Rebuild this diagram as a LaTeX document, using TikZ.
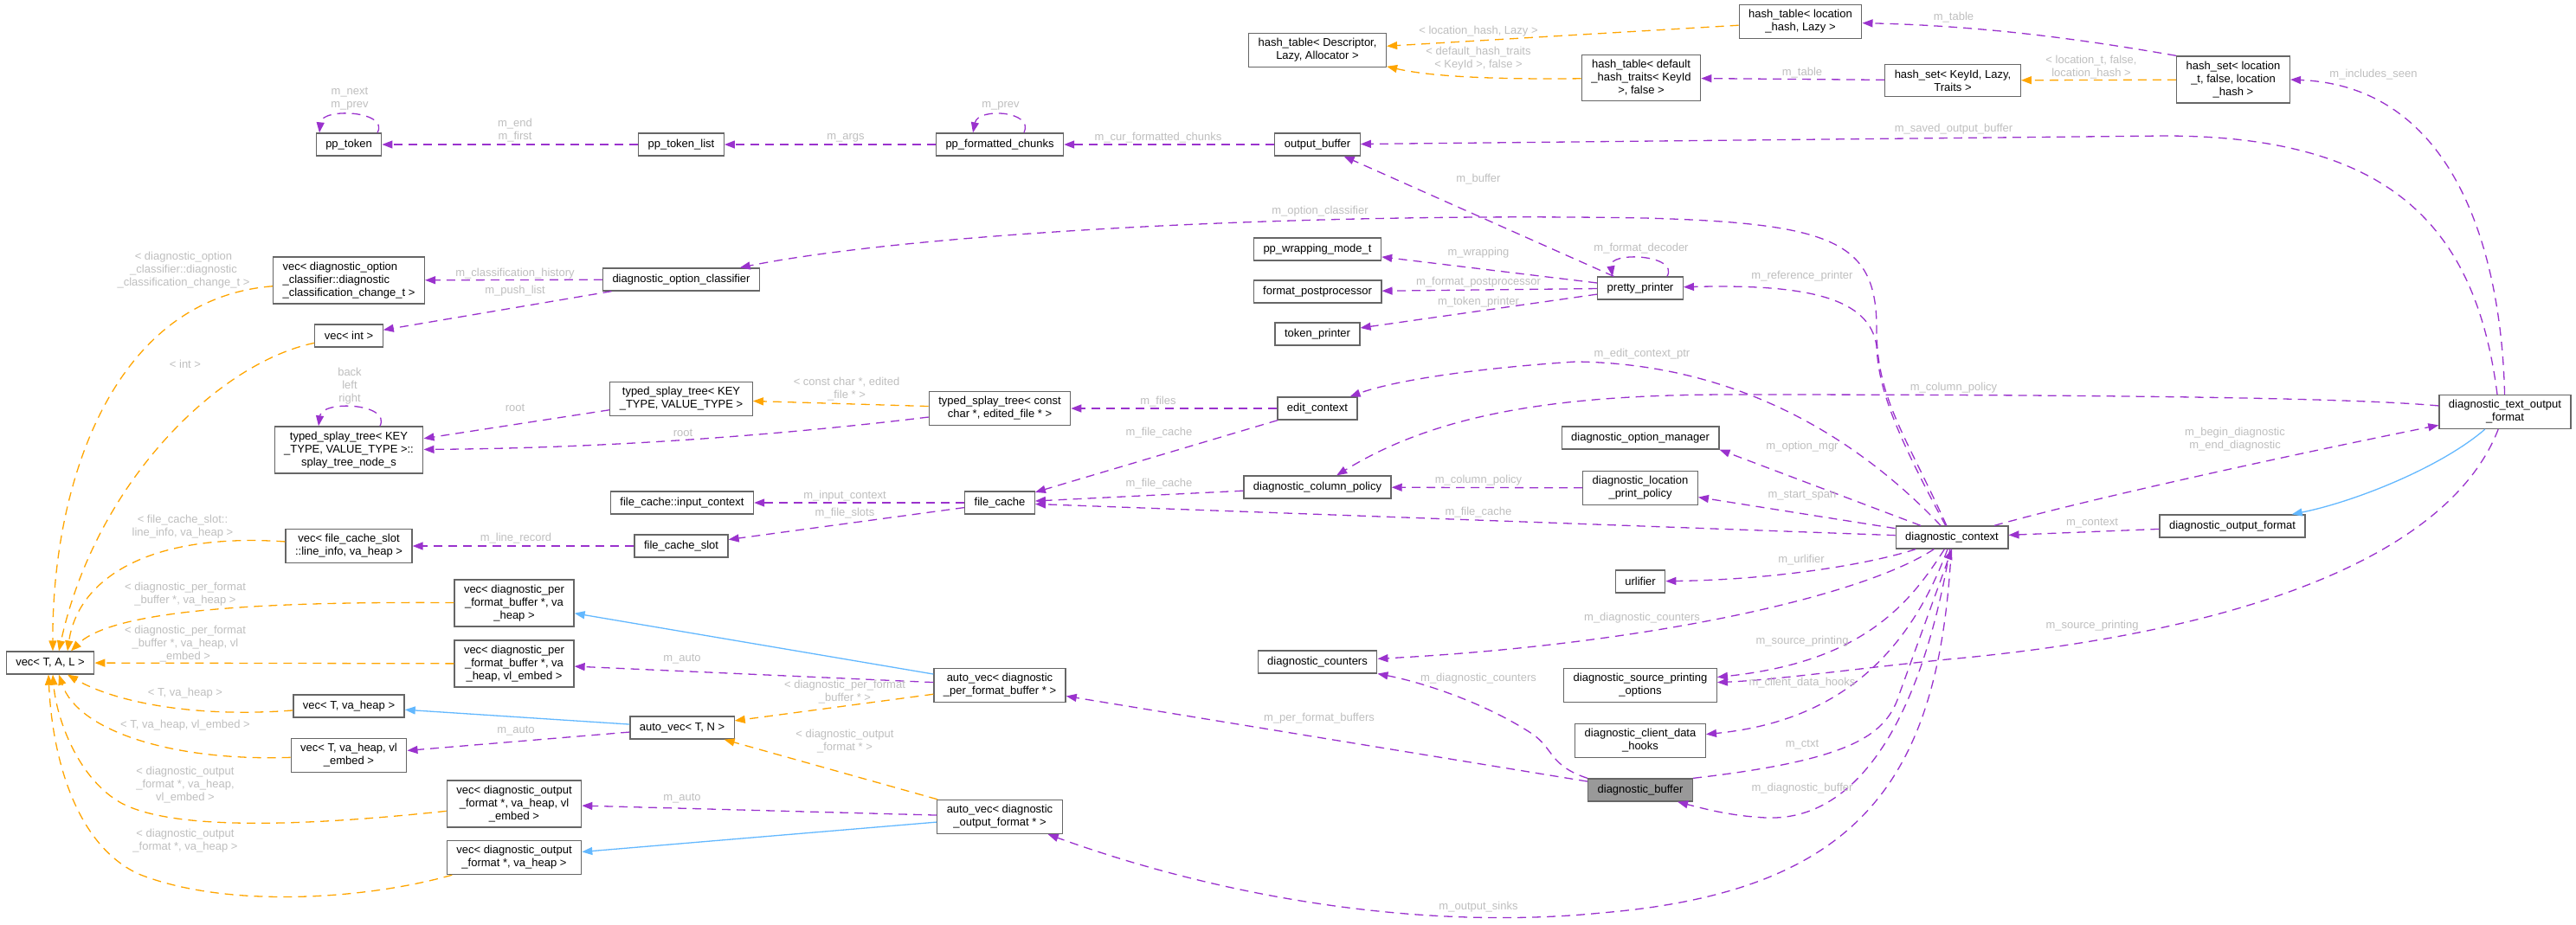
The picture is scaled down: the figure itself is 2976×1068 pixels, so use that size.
\documentclass[tikz,border=0pt]{standalone}
\usepackage{fontspec}
\setmainfont{Liberation Sans}
\usetikzlibrary{arrows.meta}
\definecolor{usecol}{HTML}{9A32CD}
\definecolor{tplcol}{HTML}{FFA500}
\definecolor{inhcol}{HTML}{63B8FF}
\definecolor{boxcol}{HTML}{666666}
\definecolor{lblcol}{HTML}{BEBEBE}
\definecolor{hlcol}{HTML}{999999}
\begin{document}
\begin{tikzpicture}[x=1pt, y=-1pt,
	cls/.style={draw=boxcol, line width=1.3pt, fill=white, align=center, inner xsep=11pt, inner ysep=6pt, minimum height=26pt, font=\fontsize{13}{15}\selectfont},
	lbl/.style={text=lblcol, align=center, inner sep=0pt, font=\fontsize{13}{15}\selectfont},
	use/.style={usecol, line width=1.3pt, dash pattern=on 10pt off 7pt, -{Triangle[length=12pt,width=9pt]}},
	tpl/.style={tplcol, line width=1.3pt, dash pattern=on 10pt off 7pt, -{Triangle[length=12pt,width=9pt]}},
	inh/.style={inhcol, line width=1.3pt, -{Triangle[length=12pt,width=9pt]}}]
	\useasboundingbox (0,0) rectangle (2976,1068);

	\node[cls] (pptok) at (403,167) {pp\_token};
	\node[cls] (pptoklist) at (787,167) {pp\_token\_list};
	\node[cls] (ppfc) at (1155,167) {pp\_formatted\_chunks};
	\node[cls] (outbuf) at (1522,167) {output\_buffer};
	\node[cls] (htdesc) at (1522,58) {hash\_table< Descriptor,\\Lazy, Allocator >};
	\node[cls] (htloc) at (2080,25) {hash\_table< location\\\_hash, Lazy >};
	\node[cls] (htdef) at (1896,90) {hash\_table< default\\\_hash\_traits< KeyId\\>, false >};
	\node[cls] (hskey) at (2256,93) {hash\_set< KeyId, Lazy,\\Traits >};
	\node[cls] (hsloc) at (2580,92) {hash\_set< location\\\_t, false, location\\\_hash >};

	\node[cls] (optcls) at (787,323) {diagnostic\_option\_classifier};
	\node[cls, align=left] (vecopt) at (403,324) {vec< diagnostic\_option\\\_classifier::diagnostic\\\_classification\_change\_t >};
	\node[cls] (vecint) at (403,388) {vec< int >};
	\node[cls] (tstkv) at (787,461) {typed\_splay\_tree< KEY\\\_TYPE, VALUE\_TYPE >};
	\node[cls] (tsnode) at (403,520) {typed\_splay\_tree< KEY\\\_TYPE, VALUE\_TYPE >::\\splay\_tree\_node\_s};
	\node[cls] (tscc) at (1155,472) {typed\_splay\_tree< const\\char *, edited\_file * >};
	\node[cls] (editctx) at (1522,472) {edit\_context};
	\node[cls] (ppwrap) at (1522,288) {pp\_wrapping\_mode\_t};
	\node[cls] (fmtpp) at (1522,337) {format\_postprocessor};
	\node[cls] (tokpr) at (1522,386) {token\_printer};
	\node[cls] (pretty) at (1895,333) {pretty\_printer};
	\node[cls] (optmgr) at (1895,506) {diagnostic\_option\_manager};
	\node[cls] (locpol) at (1895,564) {diagnostic\_location\\\_print\_policy};
	\node[cls] (colpol) at (1522,563) {diagnostic\_column\_policy};
	\node[cls] (fcic) at (788,581) {file\_cache::input\_context};
	\node[cls] (fcache) at (1155,581) {file\_cache};
	\node[cls] (fcslot) at (787,631) {file\_cache\_slot};
	\node[cls] (veclinfo) at (403,631) {vec< file\_cache\_slot\\::line\_info, va\_heap >};
	\node[cls] (urlif) at (1895,672) {urlifier};
	\node[cls] (dctx) at (2255,621) {diagnostic\_context};
	\node[cls] (dof) at (2579,608) {diagnostic\_output\_format};
	\node[cls] (dtof) at (2894,476) {diagnostic\_text\_output\\\_format};

	\node[cls] (vtal) at (58,766) {vec< T, A, L >};
	\node[cls] (vecpfb) at (594,697) {vec< diagnostic\_per\\\_format\_buffer *, va\\\_heap >};
	\node[cls] (vecpfbe) at (594,767) {vec< diagnostic\_per\\\_format\_buffer *, va\\\_heap, vl\_embed >};
	\node[cls] (vecth) at (403,816) {vec< T, va\_heap >};
	\node[cls] (vecthe) at (403,873) {vec< T, va\_heap, vl\\\_embed >};
	\node[cls] (autotn) at (788,841) {auto\_vec< T, N >};
	\node[cls] (autopfb) at (1155,792) {auto\_vec< diagnostic\\\_per\_format\_buffer * >};
	\node[cls] (autoof) at (1155,944) {auto\_vec< diagnostic\\\_output\_format * >};
	\node[cls] (vecofe) at (594,929) {vec< diagnostic\_output\\\_format *, va\_heap, vl\\\_embed >};
	\node[cls] (vecof) at (594,991) {vec< diagnostic\_output\\\_format *, va\_heap >};
	\node[cls] (counters) at (1522,765) {diagnostic\_counters};
	\node[cls] (srcopt) at (1895,792) {diagnostic\_source\_printing\\\_options};
	\node[cls] (hooks) at (1895,856) {diagnostic\_client\_data\\\_hooks};
	\node[cls, fill=hlcol] (dbuf) at (1895,913) {diagnostic\_buffer};

	\draw[use] ([xshift=33pt]pptok.north) .. controls (450,128) and (372,124) .. ([xshift=-34pt]pptok.north) node[lbl] at (404,114) {m\_next\\m\_prev};
	\draw[use] (pptoklist) -- (pptok) node[lbl] at (595,151) {m\_end\\m\_first};
	\draw[use] (ppfc) -- (pptoklist) node[lbl] at (977,159) {m\_args};
	\draw[use] ([xshift=28pt]ppfc.north) .. controls (1195,128) and (1130,124) .. ([xshift=-31pt]ppfc.north) node[lbl] at (1156,122) {m\_prev};
	\draw[use] (outbuf) -- (ppfc) node[lbl] at (1338,159) {m\_cur\_formatted\_chunks};
	\draw[use] (pretty) -- (outbuf) node[lbl] at (1708,207) {m\_buffer};
	\draw[use] ([xshift=-9pt]dtof.north) .. controls (2860,260) and (2760,157) .. (2500,157) -- (outbuf) node[lbl] at (2257,149) {m\_saved\_output\_buffer};

	\draw[use] (hsloc.north west) .. controls (2420,48) and (2300,30) .. (htloc) node[lbl] at (2257,20) {m\_table};
	\draw[use] (hskey) -- (htdef) node[lbl] at (2082,84) {m\_table};
	\draw[tpl] (htloc) -- (htdesc) node[lbl] at (1708,36) {< location\_hash, Lazy >};
	\draw[tpl] (htdef) .. controls (1720,92) and (1650,88) .. (htdesc) node[lbl] at (1708,68) {< default\_hash\_traits\\< KeyId >, false >};
	\draw[tpl] (hsloc) -- (hskey) node[lbl] at (2416,78) {< location\_t, false,\\location\_hash >};

	\draw[use] (dctx) .. controls (2200,500) and (2168,460) .. (2168,380) .. controls (2168,280) and (2120,258) .. (1900,252) .. controls (1500,245) and (1050,270) .. (optcls) node[lbl] at (1525,244) {m\_option\_classifier};
	\draw[use] (optcls) -- (vecopt) node[lbl] at (595,316) {m\_classification\_history};
	\draw[use] (optcls) -- (vecint) node[lbl] at (595,336) {m\_push\_list};
	\draw[use] (tstkv) -- (tsnode) node[lbl] at (595,471) {root};
	\draw[use] (tscc) .. controls (900,503) and (700,518) .. (tsnode) node[lbl] at (789,500) {root};
	\draw[use] ([xshift=36pt]tsnode.north) .. controls (452,466) and (372,462) .. ([xshift=-35pt]tsnode.north) node[lbl] at (404,446) {back\\left\\right};
	\draw[tpl] (tscc) -- (tstkv) node[lbl] at (978,450) {< const char *, edited\\\_file * >};

	\draw[use] (editctx) -- (tscc) node[lbl] at (1338,464) {m\_files};
	\draw[use] (editctx) -- (fcache) node[lbl] at (1339,500) {m\_file\_cache};
	\draw[use] (colpol) -- (fcache) node[lbl] at (1339,559) {m\_file\_cache};
	\draw[use] (dctx) -- (fcache) node[lbl] at (1708,592) {m\_file\_cache};
	\draw[use] (fcache) -- (fcic) node[lbl] at (976,573) {m\_input\_context};
	\draw[use] (fcache) -- (fcslot) node[lbl] at (976,593) {m\_file\_slots};
	\draw[use] (fcslot) -- (veclinfo) node[lbl] at (596,622) {m\_line\_record};

	\draw[use] (pretty) -- (ppwrap) node[lbl] at (1708,292) {m\_wrapping};
	\draw[use] (pretty) -- (fmtpp) node[lbl] at (1708,326) {m\_format\_postprocessor};
	\draw[use] (pretty) -- (tokpr) node[lbl] at (1708,349) {m\_token\_printer};
	\draw[use] ([xshift=31pt]pretty.north) .. controls (1940,294) and (1858,290) .. ([xshift=-32pt]pretty.north) node[lbl] at (1896,287) {m\_format\_decoder};
	\draw[use] (dctx) .. controls (2190,500) and (2170,450) .. (2168,400) .. controls (2160,345) and (2090,328) .. (pretty) node[lbl] at (2082,319) {m\_reference\_printer};
	\draw[use] (dctx) .. controls (2140,500) and (2000,420) .. (1820,418) .. controls (1700,426) and (1610,440) .. (editctx) node[lbl] at (1897,409) {m\_edit\_context\_ptr};
	\draw[use] (dtof) .. controls (2720,460) and (2450,456) .. (2000,456) .. controls (1800,456) and (1660,478) .. (colpol) node[lbl] at (2257,448) {m\_column\_policy};
	\draw[use] (locpol) -- (colpol) node[lbl] at (1708,555) {m\_column\_policy};

	\draw[use] (dctx) -- (optmgr.south east) node[lbl] at (2082,516) {m\_option\_mgr};
	\draw[use] (dctx) -- (locpol) node[lbl] at (2082,573) {m\_start\_span};
	\draw[use] (dctx) .. controls (2160,652) and (2050,670) .. (urlif) node[lbl] at (2081,647) {m\_urlifier};
	\draw[use] (dctx) .. controls (2150,690) and (1900,745) .. (counters) node[lbl] at (1897,714) {m\_diagnostic\_counters};
	\draw[use] (dctx) .. controls (2205,700) and (2150,765) .. (srcopt) node[lbl] at (2082,741) {m\_source\_printing};
	\draw[use] (dtof) .. controls (2830,640) and (2600,730) .. (2250,762) .. controls (2150,772) and (2050,786) .. (srcopt) node[lbl] at (2417,723) {m\_source\_printing};
	\draw[use] (dctx) .. controls (2200,770) and (2110,835) .. (hooks) node[lbl] at (2082,789) {m\_client\_data\_hooks};
	\draw[use] (dbuf.north east) .. controls (2140,878) and (2180,850) .. (2195,800) -- (dctx.south) node[lbl] at (2082,861) {m\_ctxt};
	\draw[use] (dctx) .. controls (2225,800) and (2160,950) .. (2040,945) .. controls (2000,943) and (1970,935) .. ([xshift=-18pt]dbuf.south east) node[lbl] at (2082,911) {m\_diagnostic\_buffer};
	\draw[use] (dbuf.north west) .. controls (1790,885) and (1795,865) .. (1770,848) .. controls (1720,815) and (1650,790) .. (counters) node[lbl] at (1708,784) {m\_diagnostic\_counters};
	\draw[use] (dbuf) -- (autopfb) node[lbl] at (1524,830) {m\_per\_format\_buffers};
	\draw[use] (dctx) .. controls (2240,900) and (2150,1030) .. (1850,1055) .. controls (1650,1075) and (1420,1040) .. (autoof) node[lbl] at (1708,1048) {m\_output\_sinks};
	\draw[use] (dof) -- (dctx) node[lbl] at (2417,605) {m\_context};
	\draw[use] (dtof) .. controls (2890,300) and (2840,100) .. (hsloc.east) node[lbl] at (2742,86) {m\_includes\_seen};
	\draw[use] (dctx) .. controls (2420,575) and (2650,525) .. (dtof) node[lbl] at (2582,508) {m\_begin\_diagnostic\\m\_end\_diagnostic};
	\draw[inh] (dtof) .. controls (2820,540) and (2720,580) .. (dof);

	\draw[use] (autopfb) -- (vecpfbe) node[lbl] at (788,762) {m\_auto};
	\draw[use] (autotn) -- (vecthe) node[lbl] at (596,845) {m\_auto};
	\draw[use] (autoof) -- (vecofe) node[lbl] at (788,923) {m\_auto};
	\draw[tpl] (autopfb) -- (autotn) node[lbl] at (976,800) {< diagnostic\_per\_format\\\_buffer * >};
	\draw[tpl] (autoof) -- (autotn) node[lbl] at (976,857) {< diagnostic\_output\\\_format * >};
	\draw[inh] (autopfb) -- (vecpfb);
	\draw[inh] (autotn) -- (vecth);
	\draw[inh] (autoof) -- (vecof);

	\draw[tpl] (vecopt) .. controls (130,345) and (60,560) .. ([xshift=3pt]vtal.north) node[lbl] at (212,312) {< diagnostic\_option\\\_classifier::diagnostic\\\_classification\_change\_t >};
	\draw[tpl] (vecint) .. controls (250,420) and (110,560) .. ([xshift=10pt]vtal.north) node[lbl] at (214,421) {< int >};
	\draw[tpl] (veclinfo) .. controls (170,615) and (90,670) .. ([xshift=20pt]vtal.north) node[lbl] at (211,609) {< file\_cache\_slot::\\line\_info, va\_heap >};
	\draw[tpl] (vecpfb) .. controls (300,695) and (130,705) .. ([xshift=24pt]vtal.north) node[lbl] at (214,687) {< diagnostic\_per\_format\\\_buffer *, va\_heap >};
	\draw[tpl] (vecpfbe) -- (vtal) node[lbl] at (214,744) {< diagnostic\_per\_format\\\_buffer *, va\_heap, vl\\\_embed >};
	\draw[tpl] (vecth) .. controls (220,830) and (130,810) .. ([xshift=20pt]vtal.south) node[lbl] at (214,801) {< T, va\_heap >};
	\draw[tpl] (vecthe) .. controls (200,880) and (90,845) .. ([xshift=10pt]vtal.south) node[lbl] at (214,838) {< T, va\_heap, vl\_embed >};
	\draw[tpl] (vecofe) .. controls (350,955) and (200,960) .. (140,928) .. controls (90,900) and (65,830) .. ([xshift=3pt]vtal.south) node[lbl] at (214,907) {< diagnostic\_output\\\_format *, va\_heap,\\vl\_embed >};
	\draw[tpl] (vecof) .. controls (420,1040) and (260,1050) .. (160,1010) .. controls (85,975) and (60,870) .. ([xshift=-2pt]vtal.south) node[lbl] at (214,972) {< diagnostic\_output\\\_format *, va\_heap >};
\end{tikzpicture}
\end{document}
